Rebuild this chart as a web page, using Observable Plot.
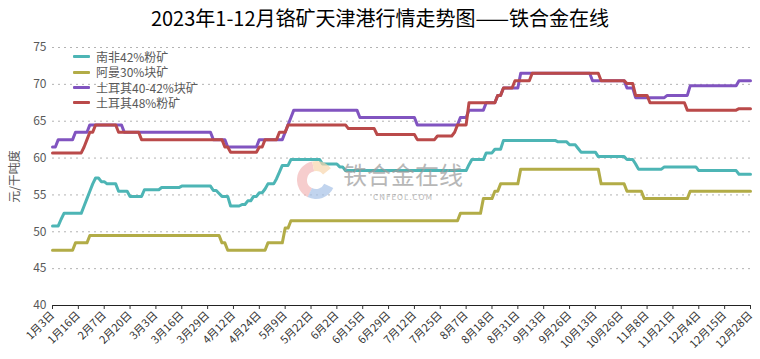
<!DOCTYPE html>
<html><head><meta charset="utf-8">
<script src="https://cdn.jsdelivr.net/npm/d3@7"></script>
<script src="https://cdn.jsdelivr.net/npm/@observablehq/plot@0.6"></script>
<style>
body{margin:0;background:#fff;font-family:"Noto Sans CJK SC","Noto Sans",sans-serif;}
#wrap{position:relative;width:760px;height:359px;overflow:hidden;background:#fff}
#title{position:absolute;left:0;top:3px;width:760px;text-align:center;font-size:20px;color:#000;white-space:nowrap}
#chart{position:absolute;left:0;top:36px;}
#legend{position:absolute;left:73px;top:49px;font-size:12px;color:#595959;line-height:15.4px}
#legend .row{display:flex;align-items:center;height:15.4px}
#legend .sw{width:17px;height:3px;margin-right:6px;border-radius:1px}
#wm{position:absolute;left:0;top:0;pointer-events:none}
</style></head>
<body><div id="wrap">
<div id="title">2023年1-12月铬矿天津港行情走势图——铁合金在线</div>
<div id="chart"></div>
<div id="legend"></div>
<div id="wm"></div>
</div>
<script>
// ---- data ----
const seriesNames = ["南非42%粉矿", "阿曼30%块矿", "土耳其40-42%块矿", "土耳其48%粉矿"];
const seriesColors = ["#4DB5B5", "#B2AC47", "#8154C0", "#BA4A4A"];
const nDays = 244; // trading-day index 0..243
const xLabels = ["1月3日","1月16日","2月7日","2月20日","3月3日","3月16日","3月29日","4月12日","4月24日","5月9日","5月22日","6月2日","6月15日","6月29日","7月12日","7月25日","8月7日","8月18日","8月31日","9月13日","9月26日","10月13日","10月26日","11月8日","11月21日","12月4日","12月15日","12月28日"];
const yTicks = [40, 45, 50, 55, 60, 65, 70, 75];
// price levels: [first day index, value held from that day]
const southAfrica42 = [[0,50.8],[3,51.7],[4,52.5],[11,53.5],[12,54.5],[13,55.5],[14,56.5],[15,57.3],[17,56.8],[19,56.5],[23,55.5],[27,54.8],[32,55.7],[38,56],[45,56.2],[56,55.6],[58,55.2],[59,54.8],[62,53.5],[66,53.7],[68,54.2],[70,54.8],[72,55.3],[74,55.8],[75,56.5],[78,57.2],[79,58.1],[80,59],[83,59.8],[94,59.2],[100,58.8],[102,58.3],[145,59.1],[146,59.8],[151,60.7],[154,61.2],[157,62.4],[176,62.2],[180,61.8],[183,61.3],[184,60.8],[190,60.2],[200,59.8],[203,59.2],[204,58.5],[213,58.8],[225,58.3],[239,57.8]];
const oman30 = [[0,47.5],[8,48.5],[13,49.5],[59,48.5],[61,47.5],[75,48.5],[81,50.5],[83,51.5],[142,52.5],[150,54.5],[154,55.5],[156,56.5],[163,58.5],[191,56.5],[200,55.5],[206,54.5],[222,55.5]];
const turkey4042 = [[0,61.5],[2,62.5],[8,63.5],[13,64.5],[25,63.5],[56,62.5],[61,61.5],[72,62.5],[81,63.5],[82,64.5],[83,65.5],[84,66.5],[107,65.5],[127,64.5],[142,65.5],[145,66.5],[151,67.5],[155,68.5],[157,69.5],[163,71.5],[188,70.5],[200,69.5],[203,68.2],[214,68.5],[222,69.8],[239,70.5]];
const turkey48 = [[0,60.7],[11,61.5],[12,62.5],[13,63.5],[15,64.5],[23,63.5],[31,62.5],[60,61.5],[62,60.8],[72,61.5],[74,62.5],[79,63.5],[82,64.5],[103,64],[113,63.2],[127,62.5],[134,63],[140,63.5],[141,64.5],[145,67.5],[155,68.5],[157,69.5],[161,70.5],[167,71.5],[191,70.5],[200,70.1],[203,68.5],[208,67.5],[221,66.5],[239,66.7]];
const seriesLevels = [southAfrica42, oman30, turkey4042, turkey48];

// expand held price levels to one value per trading day
function daily(levels){
  const out = []; let k = 0;
  for (let i = 0; i < nDays; i++){
    while (k + 1 < levels.length && levels[k+1][0] <= i) k++;
    out.push(levels[k][1]);
  }
  return out;
}
const rows = [];
seriesLevels.forEach((lv, s) => daily(lv).forEach((v, i) => rows.push({i, v, s: seriesNames[s]})));
const tickIdx = xLabels.map((_, k) => k * 9);

const font = '"Noto Sans CJK SC","Noto Sans",sans-serif';
const chart = Plot.plot({
  width: 760, height: 323,
  marginLeft: 52, marginRight: 10, marginTop: 11, marginBottom: 54,
  style: {fontFamily: font, background: "#fff", overflow: "visible"},
  x: {domain: [0, nDays - 1]},
  y: {domain: [40, 75], label: "元/干吨度", labelAnchor: "center", labelArrow: "none"},
  color: {domain: seriesNames, range: seriesColors},
  marks: [
    Plot.gridY(yTicks.filter(d => d > 40), {stroke: "#b3b3b3", strokeOpacity: 1, strokeDasharray: "2,4"}),
    Plot.axisY({ticks: yTicks, tickSize: 0, tickPadding: 6, fontSize: 12, color: "#595959", label: "元/干吨度", labelAnchor: "center", labelArrow: "none", labelOffset: 42}),
    Plot.ruleY([40], {stroke: "#222"}),
    Plot.axisX({ticks: tickIdx, tickFormat: i => xLabels[i / 9], tickRotate: -45, tickSize: 4, tickPadding: 4, fontSize: 11, color: "#333", label: null}),
    Plot.line(rows, {x: "i", y: "v", z: "s", stroke: "s", strokeWidth: 3, strokeLinejoin: "round"})
  ]
});
document.getElementById("chart").appendChild(chart);

// legend
const lg = document.getElementById("legend");
seriesNames.forEach((n, k) => {
  const r = document.createElement("div"); r.className = "row";
  const sw = document.createElement("span"); sw.className = "sw"; sw.style.background = seriesColors[k];
  const t = document.createElement("span"); t.textContent = n;
  r.appendChild(sw); r.appendChild(t); lg.appendChild(r);
});

// watermark
const wm = d3.select("#wm").append("svg").attr("width", 760).attr("height", 359).style("opacity", 0.7);
const arc = d3.arc().innerRadius(9).outerRadius(19);
const g = wm.append("g").attr("transform", "translate(316,180)");
[["#f3b9b9", -2.7, -0.2], ["#f8d6ad", -0.2, 0.9], ["#a8c3e8", 2.0, 3.6]].forEach(([c, a0, a1]) =>
  g.append("path").attr("d", arc({startAngle: a0, endAngle: a1})).attr("fill", c));
wm.append("text").attr("x", 403).attr("y", 184).attr("text-anchor", "middle").attr("font-size", 24)
  .attr("font-family", font).attr("fill", "#9a9a9a").text("铁合金在线");
wm.append("text").attr("x", 403).attr("y", 200).attr("text-anchor", "middle").attr("font-size", 8)
  .attr("letter-spacing", 1).attr("font-family", font).attr("fill", "#9a9a9a").text("CNFEOL.COM");
</script>
</body></html>
